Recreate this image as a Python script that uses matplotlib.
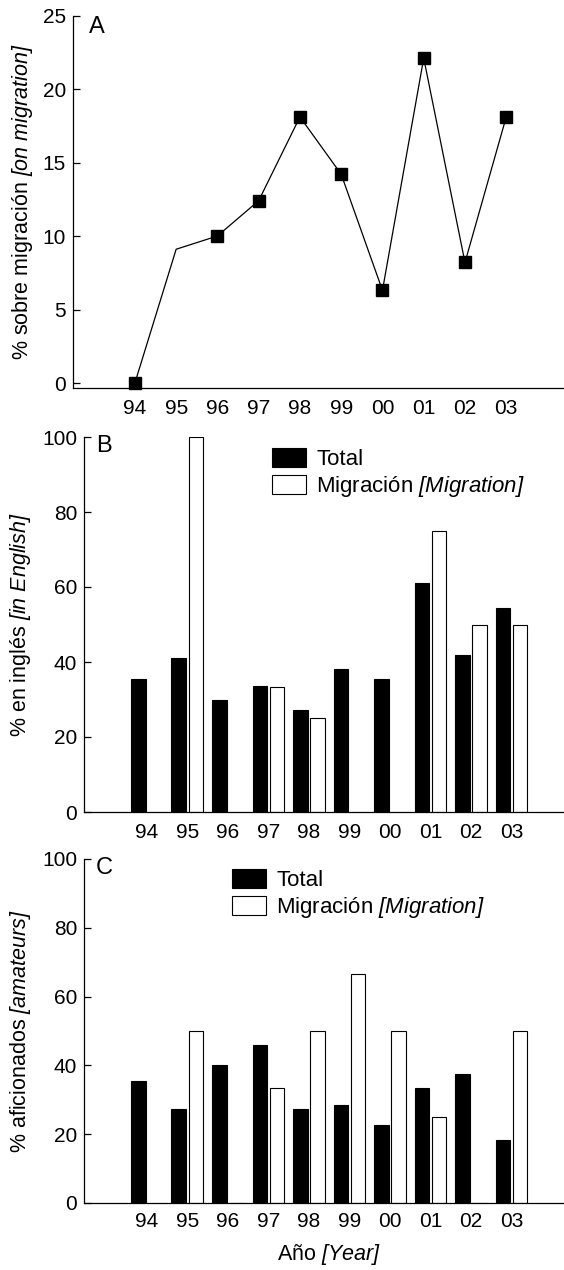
"""
Tres paneles: % sobre migración (línea) y % en inglés / % aficionados
(barras Total vs Migración) por año, 1994-2003.
"""

import numpy as np
import matplotlib.pyplot as plt

plt.rcParams["font.family"] = ["Liberation Sans", "DejaVu Sans"]
# la parte entre corchetes va en cursiva (corchetes incluidos)
plt.rcParams["mathtext.fontset"] = "custom"
plt.rcParams["mathtext.rm"] = "Liberation Sans:italic"
plt.rcParams["mathtext.it"] = "Liberation Sans:italic"

anios = ["94", "95", "96", "97", "98", "99", "00", "01", "02", "03"]

# Panel A
pct_migracion = [0, 9.1, 10.0, 12.4, 18.1, 14.2, 6.3, 22.1, 8.2, 18.1]

# Panel B
ingles_total = [35.4, 41.1, 30.0, 33.5, 27.2, 38.2, 35.6, 61.0, 41.9, 54.5]
ingles_migracion = [np.nan, 100, np.nan, 33.3, 25.0, np.nan, np.nan, 75.0, 50.0, 50.0]

# Panel C
aficionados_total = [35.4, 27.3, 40.0, 45.8, 27.3, 28.6, 22.8, 33.3, 37.5, 18.2]
aficionados_migracion = [np.nan, 50.0, 0, 33.3, 50.0, 66.7, 50.0, 25.0, 0, 50.0]

W, H = 564, 1270
fig = plt.figure(figsize=(W / 100, H / 100), dpi=100)
x = np.arange(len(anios))


def ejes(left, top, bottom, right=W):
    return fig.add_axes([left / W, 1 - bottom / H, (right - left) / W, (bottom - top) / H])


def estilo(ax, pad_x):
    for s in ["top", "right"]:
        ax.spines[s].set_visible(False)
    for s in ["left", "bottom"]:
        ax.spines[s].set_linewidth(0.9)
    ax.tick_params(axis="y", direction="in", length=5, width=0.9, labelsize=15, pad=5)
    ax.tick_params(axis="x", length=0, labelsize=15, pad=pad_x)
    ax.set_xticks(x)
    ax.set_xticklabels(anios)


# --- A: línea ---
axA = ejes(73, 15.5, 388)
axA.plot(x, pct_migracion, color="black", lw=0.9, marker="s", markersize=8,
         markevery=[0, 2, 3, 4, 5, 6, 7, 8, 9], clip_on=False)
axA.set_xlim(-1.5, 10.4)
axA.set_ylim(-0.34, 25)
axA.set_yticks([0, 5, 10, 15, 20, 25])
estilo(axA, 8)
axA.set_ylabel(r"% sobre migración $[on\ migration]$", fontsize=15.5)
axA.yaxis.set_label_coords(-0.078, 0.5)
axA.text(89, H - 38, "A", transform=None, fontsize=17, va="bottom", ha="left")

# --- B y C: barras ---
w = 0.36
d = 0.21


def barras(ax, total, migr, letra, leg_xy):
    ax.bar(x - d, total, w, color="black", edgecolor="black", lw=0.8, label="Total")
    ax.bar(x + d, migr, w, color="white", edgecolor="black", lw=0.8,
           label=r"Migración $[Migration]$")
    ax.set_xlim(-1.55, 10.3)
    ax.set_ylim(0, 100)
    ax.set_yticks([0, 20, 40, 60, 80, 100])
    ax.legend(loc="upper left", bbox_to_anchor=(leg_xy[0] / W, 1 - leg_xy[1] / H),
              bbox_transform=fig.transFigure, frameon=False, fontsize=16,
              handlelength=1.55, handleheight=0.92, handletextpad=0.45,
              labelspacing=0.2, borderpad=0, borderaxespad=0)
    ax.text(96, ax.transAxes.transform((0, 1))[1] - 20, letra, transform=None,
            fontsize=17, va="bottom", ha="left")


axB = ejes(84, 437, 812)
barras(axB, ingles_total, ingles_migracion, "B", (272, 448))
estilo(axB, 8)
axB.set_ylabel(r"% en inglés $[in\ English]$", fontsize=15.5)
axB.yaxis.set_label_coords(-0.106, 0.5)

axC = ejes(84, 859, 1203)
barras(axC, aficionados_total, aficionados_migracion, "C", (232, 869))
estilo(axC, 6.5)
axC.set_ylabel(r"% aficionados $[amateurs]$", fontsize=15.5)
axC.yaxis.set_label_coords(-0.106, 0.5)
axC.text(4.5, -0.151, r"Año $[Year]$", transform=axC.get_xaxis_transform(),
         fontsize=15.5, ha="center", va="center")

fig.savefig("out.png", dpi=100)
